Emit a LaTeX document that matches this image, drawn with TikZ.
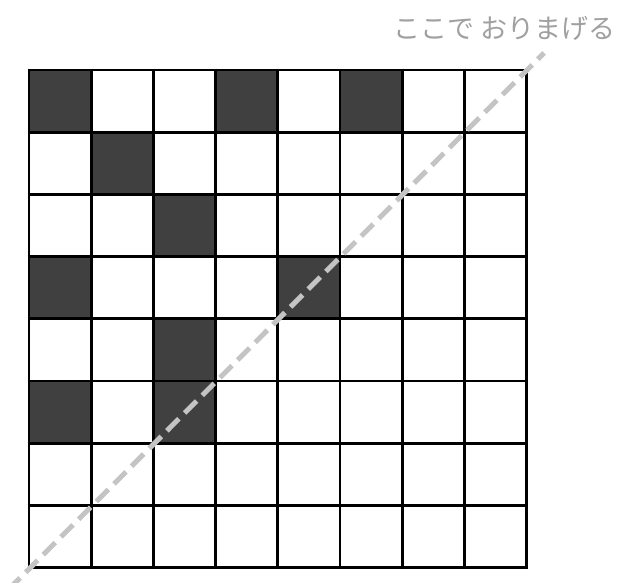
\documentclass[tikz,border=0pt]{standalone}
\usepackage{fontspec}
\newfontfamily\cjk{Noto Sans CJK JP}
\definecolor{darkcell}{HTML}{404040}
\definecolor{foldgray}{HTML}{C4C4C4}
\definecolor{labelgray}{HTML}{A0A0A0}
\begin{document}
\begin{tikzpicture}[x=1pt,y=-1pt,
  cellfill/.style={fill=darkcell, draw=none},
  gridline/.style={line width=2.8pt, black},
  foldline/.style={line width=5pt, foldgray, dash pattern=on 17pt off 8pt},
  foldlabel/.style={font=\cjk\fontsize{27}{31}\selectfont, text=labelgray, inner sep=0pt}]
\useasboundingbox (0,0) rectangle (620,582);
\def\gx{29}\def\gy{70}\def\cs{62.2}
% dark cells
\foreach \r/\c in {0/0,0/3,0/5,1/1,2/2,3/0,3/4,4/2,5/0,5/2}
  \fill[cellfill] (\gx+\c*\cs,\gy+\r*\cs) rectangle ++(\cs,\cs);
% grid
\foreach \i in {0,...,8} {
  \draw[gridline] (\gx+\i*\cs,\gy-1.4) -- (\gx+\i*\cs,\gy+8*\cs+1.4);
  \draw[gridline] (\gx-1.4,\gy+\i*\cs) -- (\gx+8*\cs+1.4,\gy+\i*\cs);
}
\coordinate (foldstart) at (8,590);
\coordinate (foldend) at (544,53);
\draw[foldline] (foldstart) -- (foldend);
\node[foldlabel, anchor=base east] (label) at (616,38) {ここで おりまげる};
\end{tikzpicture}
\end{document}
